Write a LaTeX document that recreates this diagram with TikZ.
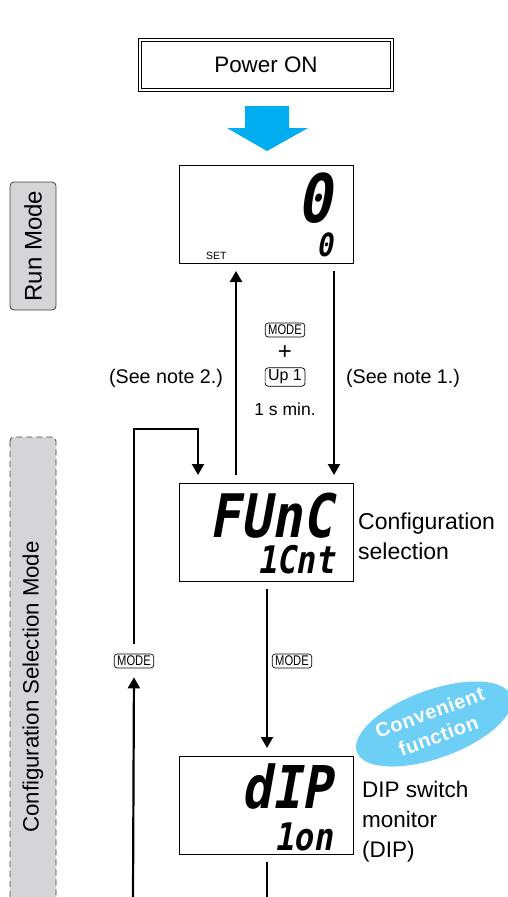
\documentclass[tikz,border=0pt]{standalone}
\usepackage{fontspec}
\setmainfont{Liberation Sans}
\newfontfamily\segfont{DejaVu Sans Mono}[FakeSlant=0.18,FakeStretch=0.85]
\newfontfamily\keyfont{Liberation Sans}[FakeStretch=0.8]
\usetikzlibrary{arrows.meta,shapes.geometric}

\definecolor{arrowblue}{HTML}{00AEEF}
\definecolor{convblue}{HTML}{6DCFF6}
\definecolor{modegray}{HTML}{D5D5D7}

\newcommand\fsz[2]{\fontsize{#1}{#2}\selectfont}

\tikzset{
  lcd/.style={draw, line width=0.9pt, minimum width=174, minimum height=98, outer sep=8pt},
  seg/.style={anchor=base east, inner sep=0, font=\segfont\bfseries},
  keybox/.style={draw, rounded corners=3pt, line width=0.7pt, inner xsep=3pt, inner ysep=2pt},
  flow/.style={line width=2.2pt, -{Triangle[width=12pt,length=11pt]}},
  modebox/.style={draw=black!75, fill=modegray, rounded corners=4pt, line width=0.8pt},
}

\begin{document}
\begin{tikzpicture}[x=1pt,y=-1pt]
  \useasboundingbox (0,0) rectangle (507,897);

  % mode bars on the left
  \node[modebox, rotate=90, minimum width=128, minimum height=46, font=\fsz{24}{26}] (runmode) at (33,246) {Run Mode};
  \node[modebox, dashed, dash pattern=on 6pt off 4pt, rotate=90, minimum width=500, minimum height=46,
        font=\fsz{22.2}{24}] (cfgmode) at (33,687) {Configuration Selection Mode};

  % power on
  \node[draw, double, double distance=2.2pt, line width=1.1pt, minimum width=252, minimum height=50,
        font=\fsz{22.4}{24}] (power) at (266,65) {Power ON};
  \fill[arrowblue] (245,106) -- (289,106) -- (289,128) -- (308,128) -- (267,151)
                   -- (227,128) -- (245,128) -- cycle;

  % run display
  \node[lcd] (run) at (266,214) {};
  \node[seg, font=\segfont\bfseries\fsz{67}{67}] (runpv) at (332,222) {0};
  \node[seg, font=\segfont\bfseries\fsz{32}{32}] (runsv) at (333,256) {0};
  \node[anchor=base west, inner sep=0, font=\fsz{10.5}{12}] (runset) at (206,259) {SET};

  % key sequence between run and config
  \node[keybox, font=\keyfont\fsz{14}{15}] (kmode) at (285,330) {MODE};
  \node[font=\fsz{24}{24}, inner sep=0] (kplus) at (285,353) {+};
  \node[keybox, font=\fsz{16}{17}] (kup) at (285,377) {Up 1};
  \node[font=\fsz{17.5}{18}] (khold) at (285,409) {1 s min.};
  \node[font=\fsz{19.7}{20}] (note2) at (166,378) {(See note 2.)};
  \node[font=\fsz{19.7}{20}] (note1) at (403,378) {(See note 1.)};

  % configuration selection display
  \node[lcd] (cfg) at (266,532) {};
  \node[seg, font=\segfont\bfseries\fsz{60}{60}] (cfgtop) at (333,537) {FUnC};
  \node[seg, font=\segfont\bfseries\fsz{38}{38}] (cfgbot) at (335,573) {1Cnt};
  \node[anchor=west, align=left, inner sep=0, font=\fsz{23}{30}] (cfglbl) at (358,536) {Configuration\\selection};

  % dip switch display
  \node[lcd] (dip) at (266,805) {};
  \node[seg, font=\segfont\bfseries\fsz{59}{59}] (diptop) at (332,808) {dIP};
  \node[seg, font=\segfont\bfseries\fsz{38}{38}] (dipbot) at (333,850) {1on};
  \node[anchor=west, align=left, inner sep=0, font=\fsz{22.5}{30}] (diplbl) at (362,822) {DIP switch\\monitor\\(DIP)};
  \node[ellipse, fill=convblue, rotate=20, minimum width=164, minimum height=68, inner sep=0,
        text=white, align=center, font=\bfseries\fsz{20}{25}\addfontfeature{LetterSpace=3}] (conv) at (434,724) {Convenient\\function};

  % MODE keys on the loop
  \node[keybox, font=\keyfont\fsz{14}{15}] (lmode) at (134,661) {MODE};
  \node[keybox, font=\keyfont\fsz{14}{15}] (rmode) at (292,661) {MODE};
  \coordinate (lbot) at (133,897);
  \coordinate (dbot) at (267,897);

  % connectors
  \draw[flow] ([xshift=-30pt]cfg.north) -- ([xshift=-30pt]run.south);
  \draw[flow] ([xshift=68pt]run.south) -- ([xshift=68pt]cfg.north);
  \draw[flow] ([xshift=1pt]cfg.south) -- ([xshift=1pt]dip.north);
  \draw[line width=2.2pt] ([xshift=1pt]dip.south) -- (dbot);
  \draw[flow, shorten >=9pt] (lbot) -- (lmode.south);
  \draw[flow, shorten <=10pt] (lmode.north) |- ([xshift=-68pt,yshift=46pt]cfg.north) -- ([xshift=-68pt]cfg.north);
\end{tikzpicture}
\end{document}
